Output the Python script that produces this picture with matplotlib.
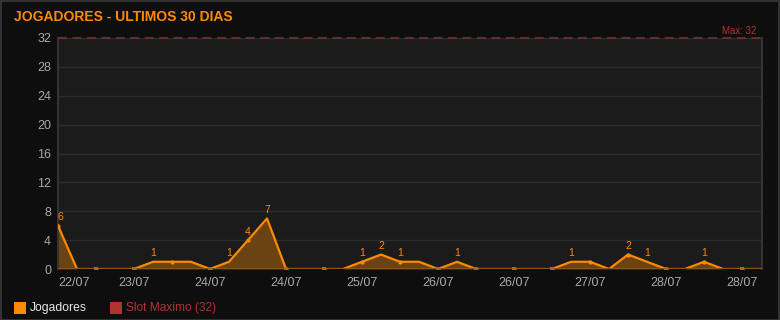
import matplotlib.pyplot as plt
from matplotlib.patches import Rectangle

plt.rcParams['font.family'] = ['Liberation Sans', 'DejaVu Sans']

# players online, one sample every ~4.7h over the last days
jogadores = [6, 0, 0, 0, 0, 1, 1, 1, 0, 1, 4, 7, 0, 0, 0, 0, 1, 2, 1, 1,
             0, 1, 0, 0, 0, 0, 0, 1, 1, 0, 2, 1, 0, 0, 1, 0, 0, 0]
# values written above the line (None = no label)
rotulos = [6, None, None, None, None, 1, None, None, None, 1, 4, 7, None, None, None, None, 1, 2, 1, None,
           None, 1, None, None, None, None, None, 1, None, None, 2, 1, None, None, 1, None, None, None]
tick_idx = [0, 4, 8, 12, 16, 20, 24, 28, 32, 36]
tick_lbl = ['22/07', '23/07', '24/07', '24/07', '25/07', '26/07', '26/07', '27/07', '28/07', '28/07']
slot_max = 32
y_ticks = [0, 4, 8, 12, 16, 20, 24, 28, 32]

orange = '#ff8a00'
red = '#b23232'
W, H = 780, 320

fig = plt.figure(figsize=(W / 100, H / 100), dpi=100, facecolor='#0e0e0e')
fig.add_artist(Rectangle((0.5 / W, 0.5 / H), 1 - 1.5 / W, 1 - 1.5 / H, transform=fig.transFigure,
                         fill=False, edgecolor='#3a3a3a', lw=1.2))
ax = fig.add_axes([58 / W, 1 - 269 / H, (762 - 58) / W, (269 - 38) / H])
ax.set_facecolor('#1b1b1b')

x = list(range(len(jogadores)))
ax.fill_between(x, jogadores, 0, color='#6b4212', lw=0, zorder=2)
ax.plot(x, jogadores, color=orange, lw=1.6, zorder=3, solid_joinstyle='round')
ax.plot(x[::2], jogadores[::2], 'o', color=orange, ms=3, mew=0, zorder=4)
ax.axhline(0, color='#8a5414', lw=2.2, zorder=5)
ax.plot(x[::2], [0 if v == 0 else None for v in jogadores[::2]], 's', color='#a86a1a', ms=2.5, mew=0, zorder=6)

for xi, (v, r) in enumerate(zip(jogadores, rotulos)):
    if r is not None:
        dx = 0.15 if xi == 0 else 0
        ax.text(xi + dx, v + 0.5, str(r), ha='center', va='bottom', color=orange, fontsize=7.5)

ax.axhline(slot_max, color='#6a3030', lw=1.3, ls=(0, (5, 3)), zorder=5, clip_on=False)
ax.text(1.0 - 6 / (762 - 58), 1.01, 'Max: %d' % slot_max, transform=ax.transAxes, ha='right', va='bottom',
        color=red, fontsize=7)

ax.set_xlim(0, 37.05)
ax.set_ylim(0, 32)
ax.set_yticks(y_ticks)
ax.set_xticks(tick_idx)
ax.set_xticklabels(tick_lbl)
ax.get_xticklabels()[0].set_horizontalalignment('left')
ax.tick_params(colors='#a8a8a8', labelsize=9, length=0, pad=6)
ax.tick_params(axis='y', pad=5)
ax.yaxis.grid(True, color='#2c2c2c', lw=1)
ax.set_axisbelow(True)
for s in ['top', 'bottom']:
    ax.spines[s].set_visible(False)
for s in ['left', 'right']:
    ax.spines[s].set_color('#333333')
    ax.spines[s].set_linewidth(1.5)

fig.text(14 / W, 1 - 17 / H, 'JOGADORES - ULTIMOS 30 DIAS', color=orange, fontsize=10,
         fontweight='bold', va='center', ha='left')

# legend at the bottom
fig.add_artist(Rectangle((14 / W, 1 - 314 / H), 12 / W, 12 / H, transform=fig.transFigure,
                         color=orange, lw=0))
fig.text(30 / W, 1 - 308.5 / H, 'Jogadores', color='#e8e8e8', fontsize=8.7, va='center')
fig.add_artist(Rectangle((110 / W, 1 - 314 / H), 12 / W, 12 / H, transform=fig.transFigure,
                         color=red, lw=0))
fig.text(126 / W, 1 - 308.5 / H, 'Slot Maximo (32)', color=red, fontsize=8.6, va='center')

fig.savefig('out.png', dpi=100, facecolor=fig.get_facecolor())
